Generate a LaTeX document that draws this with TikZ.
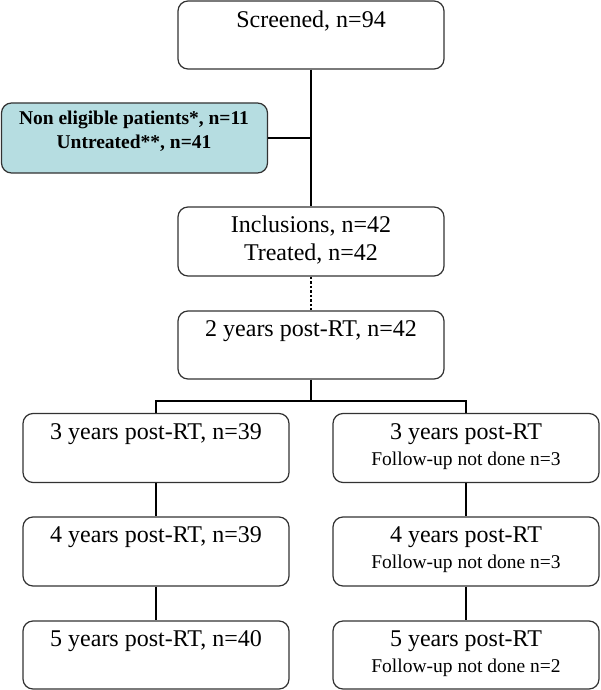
\documentclass[tikz,border=0pt]{standalone}
\usepackage{fontspec}
\setmainfont{Liberation Serif}
\definecolor{boxblue}{RGB}{182,221,225}
\definecolor{edge}{RGB}{50,50,50}
\begin{document}
\begin{tikzpicture}[x=1pt,y=-1pt,
  box/.style={draw=edge, line width=1.2pt, rounded corners=10pt, minimum width=266pt, inner sep=0pt},
  conn/.style={line width=2.8pt, black},
  dotconn/.style={line width=2.8pt, black, dash pattern=on 2.5pt off 2pt},
  big/.style={inner sep=0pt, font=\fontsize{24}{28}\selectfont, align=center},
  small/.style={inner sep=0pt, font=\fontsize{19.5}{23}\selectfont, align=center},
  bold/.style={inner sep=0pt, font=\fontsize{19.5}{24}\selectfont\bfseries, align=center}]
\useasboundingbox (0,0) rectangle (600,690);

% boxes
\node[box, minimum height=68pt] (scr) at (311,35) {};
\node[box, minimum height=70pt, fill=boxblue] (blue) at (134.5,138) {};
\node[box, minimum height=69pt] (inc) at (311,241.5) {};
\node[box, minimum height=68pt] (two) at (311,345) {};
\node[box, minimum height=69pt] (L3) at (156,448) {};
\node[box, minimum height=69pt] (R3) at (466,448) {};
\node[box, minimum height=69pt] (L4) at (156,551.5) {};
\node[box, minimum height=69pt] (R4) at (466,551.5) {};
\node[box, minimum height=68pt] (L5) at (156,655) {};
\node[box, minimum height=68pt] (R5) at (466,655) {};

% texts
\node[big] (scrT) at (311,21) {Screened, n=94};
\node[bold] (blueT) at (134,131) {Non eligible patients*, n=11\\Untreated**, n=41};
\node[big] (incT) at (311,240) {Inclusions, n=42\\Treated, n=42};
\node[big] (twoT) at (311,331) {2 years post-RT, n=42};
\node[big] (L3T) at (156,434) {3 years post-RT, n=39};
\node[big] (L4T) at (156,537) {4 years post-RT, n=39};
\node[big] (L5T) at (156,641) {5 years post-RT, n=40};
\node[big] (R3T) at (466,434) {3 years post-RT};
\node[small] (R3S) at (466,461) {Follow-up not done n=3};
\node[big] (R4T) at (466,537) {4 years post-RT};
\node[small] (R4S) at (466,564) {Follow-up not done n=3};
\node[big] (R5T) at (466,641) {5 years post-RT};
\node[small] (R5S) at (466,668) {Follow-up not done n=2};

% connectors
\draw[conn] (scr.south) -- (inc.north);
\draw[conn] (blue.east) -- (blue.east -| scr.south);
\draw[dotconn] (inc.south) -- (two.north);
\coordinate (split) at (311,401);
\draw[conn] (two.south) -- (split);
\draw[conn] (L3.north) -- (L3.north |- split) -- (R3.north |- split) -- (R3.north);
\draw[conn] (L3.south) -- (L4.north);
\draw[conn] (L4.south) -- (L5.north);
\draw[conn] (R3.south) -- (R4.north);
\draw[conn] (R4.south) -- (R5.north);
\end{tikzpicture}
\end{document}
